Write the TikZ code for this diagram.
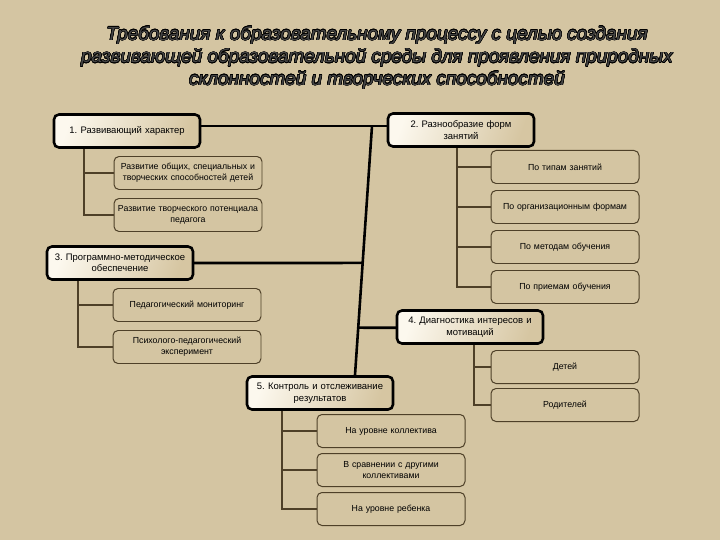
\documentclass[tikz,border=0pt]{standalone}
\usepackage{fontspec}
\setmainfont{Liberation Sans}
\usepackage[copies]{contour}
\contourlength{0.5pt}
\usetikzlibrary{positioning,calc}
\definecolor{bgtan}{HTML}{D4C5A2}
\definecolor{boxlight}{HTML}{FCF8EE}
\definecolor{boxdark}{HTML}{D6C6A2}
\definecolor{linebrown}{HTML}{4E4028}
\definecolor{titlegray}{HTML}{454545}
\frenchspacing

\begin{document}
\begin{tikzpicture}[x=1bp,y=-1bp,
  mainbox/.style={draw=black, line width=2.6pt, rounded corners=5pt, left color=boxlight, right color=boxdark, shading angle=70, minimum width=146bp, minimum height=33bp, text width=140bp, align=center, font=\fontsize{9.5}{11.5}\selectfont, inner sep=1pt},
  subbox/.style={draw=linebrown, line width=1pt, rounded corners=5pt, minimum width=147bp, minimum height=33bp, text width=146bp, align=center, font=\fontsize{8.8}{11}\selectfont, inner sep=1pt},
  trunk/.style={line width=2.6pt, black},
  twig/.style={line width=1.3pt, linebrown}]
% Background
\fill[bgtan] (0,0) rectangle (720,540);

% Title
\node[titlegray, align=center, font=\fontsize{19}{22.5}\selectfont\itshape] (title) at (377,58)
  {\contour{black}{Требования к образовательному процессу с целью создания}\\
   \contour{black}{развивающей образовательной среды для проявления природных}\\
   \contour{black}{склонностей и творческих способностей}};

% Main trunk
\coordinate (top) at (372,126);
\coordinate (bottom) at (355,375);
\draw[trunk] (127,126) -- (461,126);
\draw[trunk] (top) -- (bottom);
\draw[trunk] (120,263) -- ($(top)!0.55!(bottom)$);
\draw[trunk] ($(top)!0.81!(bottom)$) -- (470,328);

% Main boxes
\node[mainbox] (dev) at (127,131) {1. Развивающий характер};
\node[mainbox] (forms) at (461,130) {2. Разнообразие форм\\занятий};
\node[mainbox] (method) at (120,263) {3. Программно-методическое\\обеспечение};
\node[mainbox] (diag) at (470,327) {4. Диагностика интересов и\\мотиваций};
\node[mainbox] (ctrl) at (320,393) {5. Контроль и отслеживание\\результатов};

% Sub boxes
\node[subbox] (dev1) at (188,173) {Развитие общих, специальных и\\творческих способностей детей};
\node[subbox] (dev2) at (188,215) {Развитие творческого потенциала\\педагога};
\node[subbox] (forms1) at (565,167) {По типам занятий};
\node[subbox] (forms2) at (565,207) {По организационным формам};
\node[subbox] (forms3) at (565,247) {По методам обучения};
\node[subbox] (forms4) at (565,287) {По приемам обучения};
\node[subbox] (method1) at (187,305) {Педагогический мониторинг};
\node[subbox] (method2) at (187,347) {Психолого-педагогический\\эксперимент};
\node[subbox] (diag1) at (565,367) {Детей};
\node[subbox] (diag2) at (565,405) {Родителей};
\node[subbox] (ctrl1) at (391,431) {На уровне коллектива};
\node[subbox] (ctrl2) at (391,470) {В сравнении с другими\\коллективами};
\node[subbox] (ctrl3) at (391,509) {На уровне ребенка};

% Branches
\draw[twig] ([xshift=-43bp]dev.south) |- (dev1.west);
\draw[twig] ([xshift=-43bp]dev.south) |- (dev2.west);
\draw[twig] ([xshift=-4bp]forms.south) |- (forms1.west);
\draw[twig] ([xshift=-4bp]forms.south) |- (forms2.west);
\draw[twig] ([xshift=-4bp]forms.south) |- (forms3.west);
\draw[twig] ([xshift=-4bp]forms.south) |- (forms4.west);
\draw[twig] ([xshift=-42bp]method.south) |- (method1.west);
\draw[twig] ([xshift=-42bp]method.south) |- (method2.west);
\draw[twig] ([xshift=4bp]diag.south) |- (diag1.west);
\draw[twig] ([xshift=4bp]diag.south) |- (diag2.west);
\draw[twig] ([xshift=-38bp]ctrl.south) |- (ctrl1.west);
\draw[twig] ([xshift=-38bp]ctrl.south) |- (ctrl2.west);
\draw[twig] ([xshift=-38bp]ctrl.south) |- (ctrl3.west);
\end{tikzpicture}
\end{document}
